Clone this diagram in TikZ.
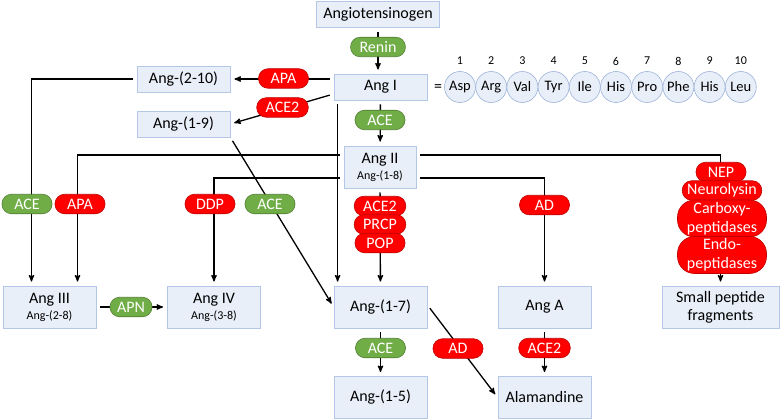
\documentclass[tikz,border=0pt]{standalone}
\usepackage{fontspec}
\setmainfont{Carlito}
\usetikzlibrary{arrows}
\definecolor{boxfill}{HTML}{E9EFF8}
\definecolor{boxline}{HTML}{B4C7E7}
\definecolor{aaline}{HTML}{9DB3D9}
\definecolor{enzgreen}{HTML}{70AD47}
\definecolor{enzgreenline}{HTML}{507E32}
\definecolor{enzred}{HTML}{FF0000}
\definecolor{enzredline}{HTML}{C00000}
\newcommand{\subl}[1]{{\fontsize{12}{13}\selectfont #1}}
\tikzset{
  pep/.style={draw=boxline, fill=boxfill, line width=0.8pt, minimum width=93pt, minimum height=26pt, inner sep=3pt, font=\fontsize{16}{18}\selectfont, align=center},
  pep2/.style={pep, minimum height=42pt},
  enz/.style={rounded corners=9.5pt, minimum height=19.5pt, minimum width=50pt, inner xsep=9pt, inner ysep=1pt, text=white, font=\fontsize{16}{19}\selectfont, line width=0.6pt, align=center},
  act/.style={enz, fill=enzgreen, draw=enzgreenline},
  inh/.style={enz, fill=enzred, draw=enzredline},
  tallenz/.style={inh, rounded corners=17pt, minimum height=37pt, minimum width=89pt, inner xsep=6pt},
  aa/.style={circle, draw=aaline, fill=boxfill, line width=0.6pt, minimum size=31pt, inner sep=0pt, font=\fontsize{14.5}{16}\selectfont},
  elbow/.style={to path={-| (\tikztotarget)}}
}
\begin{document}
\begin{tikzpicture}[x=1pt,y=-1pt,->,>=stealth',line width=1.3pt,shorten >=4pt,shorten <=4pt]
  \useasboundingbox (0,0) rectangle (780,420);
  \node[pep, minimum width=0pt, inner xsep=7pt] (agt) at (378,14.5) {Angiotensinogen};
  \node[pep] (angI) at (380.5,87) {Ang I};
  \node[pep] (ang210) at (183.5,79) {Ang-(2-10)};
  \node[pep] (ang19) at (183.5,124) {Ang-(1-9)};
  \node[pep2, minimum width=72pt] (angII) at (380,167) {Ang II\\[-2pt]\subl{Ang-(1-8)}};
  \node[pep2] (angIII) at (49.5,307) {Ang III\\[-2pt]\subl{Ang-(2-8)}};
  \node[pep2] (angIV) at (214,307) {Ang IV\\[-2pt]\subl{Ang-(3-8)}};
  \node[pep2] (ang17) at (380.5,307) {Ang-(1-7)};
  \node[pep2] (angA) at (544.5,307) {Ang A};
  \node[pep2, minimum width=117pt] (spf) at (720.5,307) {Small peptide\\fragments};
  \node[pep2] (ang15) at (380.5,397.5) {Ang-(1-5)};
  \node[pep2] (alam) at (544.5,397.5) {Alamandine};

  \node[font=\fontsize{16}{18}\selectfont] (eq) at (438,88) {=};
  \foreach \res [count=\i] in {Asp,Arg,Val,Tyr,Ile,His,Pro,Phe,His,Leu} {
    \node[aa] (aa\i) at ({460+31.2*(\i-1)},87) {\res};
    \node[font=\fontsize{12}{13}\selectfont] (num\i) at ({460+31.2*(\i-1)},61) {\i};
  }

  \path
  (agt.south) edge (agt.south |- angI.north)
  (angI) edge (angII)
  ([yshift=8pt]angI.west) edge (ang210.east)
  ([yshift=-7pt]angI.west) edge (ang19.east)
  ([xshift=4pt]angI.south west) edge ([xshift=4pt]angI.south west |- ang17.north)
  (ang19.south east) edge (ang17.west)
  (ang210.west) edge[elbow] ([xshift=-18pt]angIII.north)
  ([yshift=12pt]angII.west) edge[elbow] ([xshift=28pt]angIII.north)
  ([yshift=-11pt]angII.west) edge[elbow] (angIV.north)
  ([yshift=-11pt]angII.east) edge[elbow] (angA.north)
  ([yshift=12pt]angII.east) edge[elbow] (spf.north)
  (angII) edge (ang17)
  (angIII) edge (angIV)
  (ang17) edge (ang15)
  ([yshift=2pt]ang17.east) edge (alam.west)
  (angA) edge (alam)
  ;

  \node[act] (renin) at (378,47) {Renin};
  \node[inh] (apa1) at (283.5,78.5) {APA};
  \node[inh] (ace2a) at (282.5,107.5) {ACE2};
  \node[act] (ace1) at (380,120) {ACE};
  \node[act] (ace2) at (27,204) {ACE};
  \node[inh] (apa2) at (80,204) {APA};
  \node[inh] (ddp) at (210,204) {DDP};
  \node[act] (ace3) at (270,204) {ACE};
  \node[inh] (ace2b) at (380,206) {ACE2};
  \node[inh] (prcp) at (380,224.5) {PRCP};
  \node[inh] (pop) at (380,243) {POP};
  \node[inh] (ad1) at (544.5,205) {AD};
  \node[inh] (nep) at (721,172) {NEP};
  \node[inh, inner xsep=5pt] (nly) at (722,190.5) {Neurolysin};
  \node[tallenz] (cpep) at (722,218.5) {Carboxy-\\peptidases};
  \node[tallenz] (epep) at (722,255) {Endo-\\peptidases};
  \node[act, minimum width=42pt, inner xsep=4pt] (apn) at (131,307) {APN};
  \node[act] (ace4) at (380.5,348) {ACE};
  \node[inh] (ad2) at (458,348.5) {AD};
  \node[inh] (ace2c) at (544.5,348) {ACE2};
\end{tikzpicture}
\end{document}
